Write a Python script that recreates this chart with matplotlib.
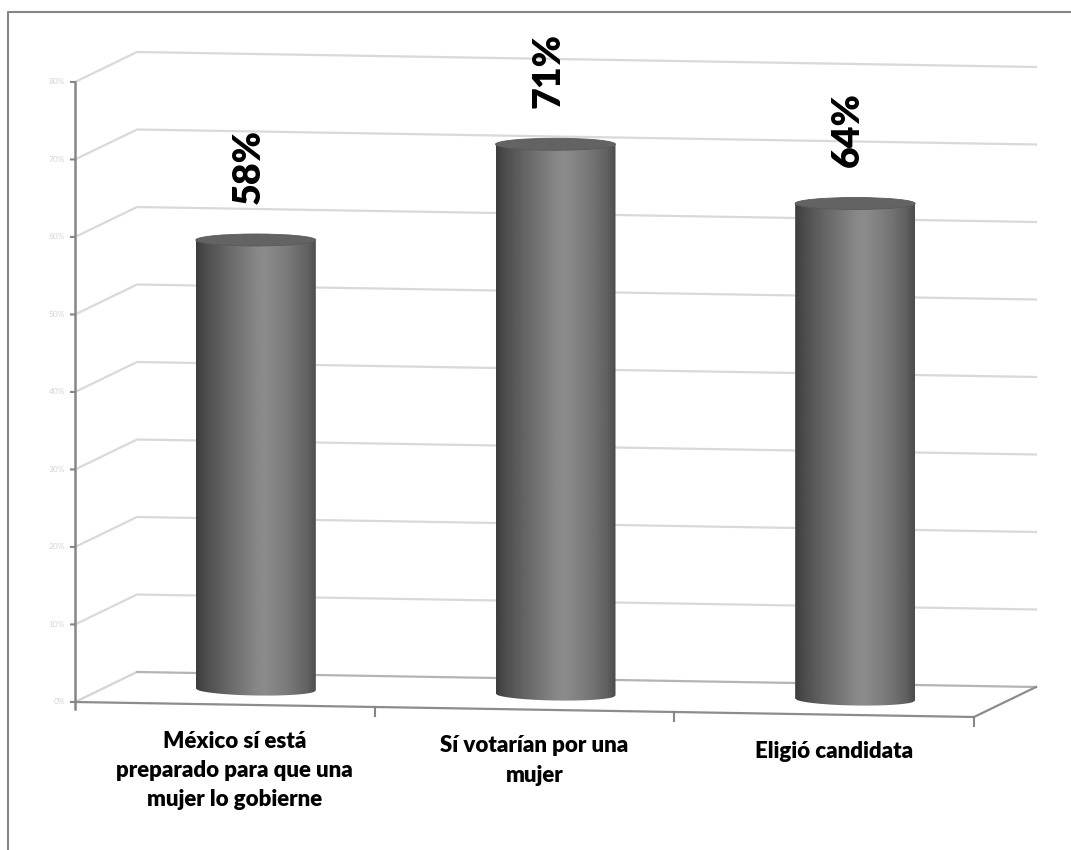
import numpy as np
import matplotlib
matplotlib.use("Agg")
import matplotlib.pyplot as plt
from matplotlib.patches import Ellipse, Polygon
from matplotlib.lines import Line2D

categories = [
    "México sí está\npreparado para que una\nmujer lo gobierne",
    "Sí votarían por una\nmujer",
    "Eligió candidata",
]
values = [58, 71, 64]
tick_values = [0, 10, 20, 30, 40, 50, 60, 70, 80]
tick_labels = [f"{t}%" for t in tick_values]

plt.rcParams["font.family"] = ["Lato", "DejaVu Sans"]

W, H = 1071, 850
fig = plt.figure(figsize=(W / 100, H / 100), dpi=100)
ax = fig.add_axes([0, 0, 1, 1])
ax.axis("off")

# pixel scale of the oblique "3D" box
PX_X = 899 / 3      # px per category
PX_Y = 7.75         # px per percentage point
X0, Y0 = 75, 702    # front-left floor corner (px from top-left)

DEPTH_X = 62 / PX_X
DEPTH_Y = 30 / PX_Y
SHEAR = 15 / PX_Y / 3
N_CAT = len(categories)
V_MAX = tick_values[-1]


def proj(x, d, v):
    x = np.asarray(x, dtype=float)
    d = np.asarray(d, dtype=float)
    v = np.asarray(v, dtype=float)
    return x + DEPTH_X * d, v - SHEAR * x + DEPTH_Y * d


# walls
for v in tick_values[1:]:
    px, py = proj([0, 0, N_CAT], [0, 1, 1], [v, v, v])
    ax.plot(px, py, color="#d9d9d9", lw=1.6, zorder=1)

# floor
px, py = proj([0, 0], [0, 1], [0, 0])
ax.plot(px, py, color="#d4d4d4", lw=1.6, zorder=1)
px, py = proj([0, N_CAT], [1, 1], [0, 0])
ax.plot(px, py, color="#b4b4b4", lw=1.6, zorder=1)
px, py = proj([N_CAT, N_CAT, 0], [1, 0, 0], [0, 0, 0])
ax.plot(px, py, color="#8c8c8c", lw=1.6, zorder=2)

# value axis
px, py = proj([0, 0], [0, 0], [-0.9, V_MAX])
ax.plot(px, py, color="#868686", lw=1.8, zorder=3)
for t, lab in zip(tick_values, tick_labels):
    px, py = proj([-4 / PX_X, 0], [0, 0], [t, t])
    ax.plot(px, py, color="#868686", lw=1.5, zorder=3)
    ax.text(px[0] - 6 / PX_X, py[0], lab, ha="right", va="center",
            fontsize=6, color="#d4d4d4")

# category ticks
for i in range(1, N_CAT + 1):
    px, py = proj([i, i], [0, 0], [0, -1.1])
    ax.plot(px, py, color="#868686", lw=1.5, zorder=3)

# cylinders: smooth grey gradient clipped to the body outline
R = 60 / PX_X
E = 6 / PX_Y
u_stops = [-1.0, -0.85, -0.5, 0.0, 0.15, 0.55, 0.85, 1.0]
g_stops = [0.24, 0.30, 0.40, 0.53, 0.55, 0.47, 0.38, 0.30]
u = np.linspace(-1, 1, 200)
shade = np.interp(u, u_stops, g_stops)[None, :]
arc = np.linspace(1, -1, 60)

for i, val in enumerate(values):
    c = i + 0.5
    xs = np.concatenate([c + R * arc[::-1], c + R * arc])
    vs = np.concatenate([-E * np.sqrt(1 - arc[::-1] ** 2),
                         np.full(arc.size, val)])
    px, py = proj(xs, np.full(xs.size, 0.5), vs)
    body = Polygon(np.column_stack([px, py]), closed=True,
                   facecolor="none", edgecolor="none")
    ax.add_patch(body)
    img = ax.imshow(shade, cmap="gray", vmin=0, vmax=1, aspect="auto",
                    interpolation="bilinear",
                    extent=[px.min(), px.max(), py.min() - 1, py.max() + 1],
                    zorder=5)
    img.set_clip_path(body)
    cx, cy = proj(c, 0.5, val)
    ax.add_patch(Ellipse((cx, cy), 2 * R, 2 * E, facecolor="#636363",
                         edgecolor="#5a5a5a", lw=0.6, zorder=6))
    ax.annotate(f"{val}%", xy=(cx, cy), xytext=(-7, 36),
                textcoords="offset pixels", rotation=90, ha="center",
                va="bottom", fontsize=27, fontweight="heavy", color="black",
                zorder=7)

# imshow resets the limits, so fix them after drawing
ax.set_xlim(-X0 / PX_X, (W - X0) / PX_X)
ax.set_ylim(-(H - Y0) / PX_Y, Y0 / PX_Y)

# category labels
for i, cat in enumerate(categories):
    px, py = proj(i + 0.5, 0, 0)
    ax.annotate(cat, xy=(px, py), xytext=(10, -26),
                textcoords="offset pixels", ha="center", va="top",
                fontsize=16, fontweight="heavy", linespacing=1.5,
                color="black")

# chart area border
fig.add_artist(Line2D([8 / W, 8 / W, 1.0], [0, 1 - 12 / H, 1 - 12 / H],
                      color="#868686", lw=1.5))

fig.savefig("out.png", dpi=100)
